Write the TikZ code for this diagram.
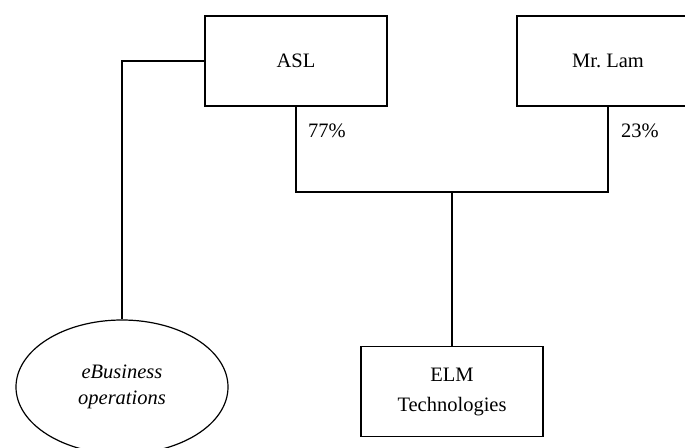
\documentclass[tikz,border=0pt]{standalone}
\usepackage{fontspec}
\setmainfont{Liberation Serif}
\usetikzlibrary{positioning, shapes.geometric}

\tikzset{
  box/.style = {draw, line width=1.2pt, minimum width=182pt, minimum height=90pt, align=center},
  oval/.style = {draw, ellipse, line width=1.2pt, minimum width=212pt, minimum height=134pt, align=center},
  pct/.style = {inner sep=0pt, anchor=west},
  link/.style = {line width=1.2pt}
}

\begin{document}
\begin{tikzpicture}[x=1pt, y=1pt, on grid, font=\fontsize{20.5}{27}\selectfont]
  \useasboundingbox (0,0) rectangle (685,-447);
  \node[box] (asl) at (296,-61) {ASL};
  \node[box] (lam) [right=312pt of asl] {Mr.\ Lam};
  \node[box, font=\fontsize{20.5}{30}\selectfont] (elm) [below right=330.5pt and 156pt of asl] {ELM\\Technologies};
  \node[oval, font=\fontsize{20.5}{26}\selectfont\itshape] (ebiz) [below left=326pt and 174pt of asl] {eBusiness\\operations};
  \coordinate (split) at (452,-192);
  \draw[link] (asl.west) -| (ebiz.north);
  \draw[link] (asl.south) |- (split) -| (lam.south);
  \draw[link] (split) -- (elm.north);
  \node[pct] (share1) at ([shift={(12pt,-24pt)}]asl.south) {77\%};
  \node[pct] (share2) at ([shift={(13pt,-24pt)}]lam.south) {23\%};
\end{tikzpicture}
\end{document}
